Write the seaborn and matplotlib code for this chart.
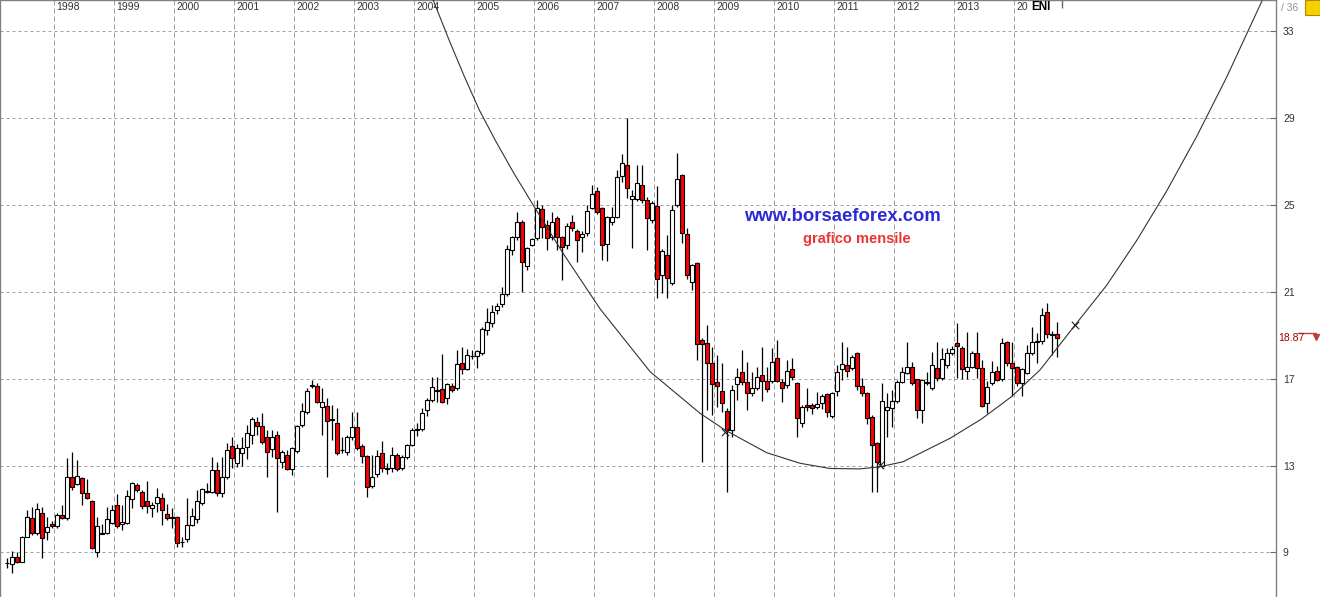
import matplotlib
matplotlib.use("Agg")
import matplotlib.pyplot as plt
from matplotlib.patches import Rectangle
import numpy as np
import pandas as pd
import seaborn as sns

# ENI monthly candles, March 1997 - September 2014
first_month = "1997-03"
opens = [8.53, 8.46, 8.78, 8.55, 9.73, 10.61, 9.88, 10.81, 9.96, 10.30,
         10.21, 10.71, 10.58, 12.46, 12.16, 12.42, 11.73, 11.37, 9.01, 9.90,
         9.88, 10.38, 11.17, 10.33, 10.35, 11.45, 12.10, 11.77, 11.37, 11.04,
         11.27, 11.50, 10.76, 10.62, 10.65, 9.50, 9.61, 10.27, 10.53, 11.30,
         11.80, 11.80, 12.80, 11.73, 12.46, 13.91, 13.11, 13.60, 13.85, 14.41,
         15.03, 14.84, 14.31, 13.75, 14.40, 13.19, 13.51, 12.83, 13.68, 14.86,
         15.46, 16.68, 16.67, 15.72, 15.75, 15.16, 14.95, 13.72, 13.63, 14.31,
         14.80, 13.91, 13.46, 12.06, 12.62, 13.57, 12.90, 12.88, 13.48, 12.88,
         13.38, 13.95, 14.69, 14.67, 15.56, 16.03, 16.48, 16.52, 16.10, 16.69,
         16.56, 17.71, 17.44, 18.07, 18.05, 18.21, 19.25, 19.55, 20.17, 20.43,
         20.91, 22.94, 23.52, 24.23, 22.21, 23.17, 23.50, 24.84, 24.09, 23.55,
         24.39, 23.52, 23.17, 24.23, 23.81, 23.52, 23.70, 24.85, 25.67, 24.85,
         23.20, 24.22, 24.47, 26.35, 26.84, 25.27, 25.30, 25.91, 25.24, 24.32,
         24.96, 21.78, 22.69, 21.40, 24.99, 26.37, 23.66, 21.46, 22.32, 18.77,
         18.67, 17.72, 16.87, 16.44, 15.52, 14.64, 16.75, 17.30, 16.84, 16.33,
         16.56, 17.18, 16.90, 16.90, 17.95, 16.87, 16.72, 17.44, 16.79, 14.95,
         15.79, 15.79, 15.69, 15.87, 16.30, 15.30, 16.46, 17.44, 17.64, 17.48,
         18.18, 16.67, 16.33, 15.26, 14.03, 12.99, 15.57, 15.64, 16.00, 16.87,
         17.29, 17.53, 16.98, 15.56, 16.79, 16.59, 17.48, 17.02, 17.64, 18.21,
         18.64, 18.41, 17.38, 17.56, 18.18, 17.49, 15.87, 16.79, 17.38, 16.98,
         18.68, 17.74, 17.56, 16.82, 17.29, 18.21, 18.70, 18.76, 20.09, 19.04,
         19.05]
highs = [8.73, 9.09, 9.04, 9.75, 10.96, 11.11, 11.30, 11.11, 10.62, 10.43,
         10.80, 11.19, 13.34, 13.65, 13.26, 12.50, 12.37, 11.40, 10.65, 10.30,
         11.11, 11.17, 11.70, 11.19, 11.90, 12.27, 12.19, 11.90, 12.30, 11.33,
         11.96, 11.73, 11.24, 11.04, 10.70, 9.73, 11.50, 11.04, 11.88, 11.96,
         12.18, 13.42, 13.18, 13.42, 14.03, 14.34, 14.00, 14.34, 14.85, 15.23,
         15.26, 15.44, 14.64, 14.64, 14.60, 13.70, 13.72, 13.84, 14.88, 15.87,
         16.57, 16.95, 16.79, 16.57, 16.10, 15.80, 15.64, 14.34, 14.41, 15.49,
         15.49, 14.00, 13.50, 13.49, 13.72, 14.14, 13.11, 13.88, 13.57, 13.49,
         14.00, 14.72, 14.95, 15.64, 16.10, 17.10, 17.07, 18.14, 16.80, 16.80,
         18.33, 18.45, 18.37, 18.33, 18.33, 19.40, 20.25, 20.40, 20.50, 21.25,
         23.17, 23.60, 24.70, 24.32, 23.05, 23.50, 25.24, 25.01, 24.30, 24.70,
         24.50, 23.60, 24.20, 24.55, 23.90, 23.80, 25.01, 25.93, 25.85, 24.90,
         24.50, 24.90, 26.62, 27.36, 29.00, 25.70, 26.85, 26.85, 25.39, 25.20,
         25.88, 23.00, 23.63, 25.01, 27.42, 26.45, 23.93, 22.30, 22.40, 18.90,
         19.48, 18.48, 18.10, 17.75, 15.64, 16.72, 17.48, 18.33, 17.79, 17.30,
         17.56, 18.48, 17.56, 18.41, 18.79, 17.00, 17.87, 17.94, 16.85, 15.79,
         16.60, 15.90, 16.40, 16.30, 16.35, 16.40, 17.64, 18.71, 18.48, 18.10,
         18.25, 17.02, 16.40, 15.35, 14.10, 16.79, 16.33, 16.49, 16.95, 17.56,
         18.71, 17.79, 17.00, 17.00, 17.30, 18.25, 18.71, 18.41, 18.41, 18.50,
         19.56, 18.50, 19.17, 18.30, 19.17, 17.87, 16.90, 17.80, 17.60, 18.87,
         18.75, 18.70, 17.60, 17.50, 18.55, 19.40, 19.10, 20.25, 20.48, 19.20,
         19.60]
lows = [8.27, 8.04, 8.50, 8.55, 9.70, 9.82, 9.80, 8.73, 9.58, 10.15,
        10.15, 10.55, 10.50, 11.90, 12.10, 11.19, 11.45, 9.15, 8.78, 9.85,
        9.85, 10.30, 10.11, 10.04, 10.30, 11.04, 11.80, 11.00, 10.81, 10.65,
        10.88, 10.27, 10.50, 10.12, 9.24, 9.27, 9.50, 10.20, 10.38, 11.20,
        11.75, 11.75, 11.60, 11.55, 12.40, 12.88, 12.95, 12.99, 13.30, 14.00,
        14.40, 14.00, 12.50, 13.40, 10.88, 12.90, 12.80, 12.57, 13.60, 14.80,
        15.40, 16.60, 15.90, 14.41, 12.50, 14.18, 13.50, 13.60, 13.50, 14.20,
        13.70, 13.10, 11.54, 11.95, 12.50, 12.70, 12.60, 12.70, 12.75, 12.80,
        13.30, 13.90, 14.35, 14.60, 15.30, 15.95, 15.95, 15.88, 15.84, 16.40,
        16.50, 17.22, 17.40, 17.90, 17.50, 18.10, 19.00, 19.40, 20.00, 20.30,
        20.80, 22.70, 23.40, 21.02, 22.01, 23.10, 23.40, 23.50, 22.94, 23.40,
        22.94, 21.55, 23.00, 23.80, 22.40, 22.86, 23.60, 24.80, 24.60, 22.47,
        22.45, 24.10, 24.40, 26.08, 25.32, 23.01, 25.20, 25.10, 22.94, 24.20,
        20.71, 20.97, 20.71, 21.30, 24.90, 23.24, 21.60, 21.09, 17.87, 13.19,
        15.57, 15.34, 15.72, 15.49, 11.80, 14.34, 16.03, 16.70, 15.56, 16.20,
        16.50, 16.00, 16.40, 16.80, 16.85, 15.95, 16.60, 16.95, 14.34, 14.80,
        15.50, 15.40, 15.60, 15.60, 15.26, 15.20, 16.20, 16.95, 17.10, 17.40,
        16.50, 16.20, 14.90, 11.80, 11.80, 12.90, 14.34, 14.80, 15.90, 16.80,
        17.20, 16.70, 15.18, 14.95, 16.70, 16.50, 16.90, 16.95, 17.50, 18.10,
        17.02, 16.98, 16.98, 17.50, 17.02, 15.70, 15.44, 16.70, 16.90, 16.90,
        17.60, 16.21, 16.65, 16.21, 17.20, 18.10, 17.75, 18.60, 18.90, 18.10,
        18.02]
closes = [8.53, 8.81, 8.55, 9.70, 10.65, 9.88, 10.99, 9.65, 10.18, 10.21,
          10.71, 10.58, 12.46, 12.00, 12.53, 11.73, 11.50, 9.19, 10.24, 9.86,
          10.53, 10.96, 10.21, 10.40, 11.60, 12.19, 11.88, 11.16, 11.16, 11.17,
          11.54, 10.94, 10.58, 10.60, 9.42, 9.50, 10.27, 10.68, 11.37, 11.91,
          11.82, 12.80, 11.73, 12.46, 13.72, 13.34, 13.80, 13.80, 14.52, 15.14,
          14.84, 14.08, 13.62, 14.31, 13.34, 13.62, 12.83, 13.80, 14.83, 15.52,
          16.46, 16.72, 15.95, 15.95, 15.08, 15.12, 13.57, 13.74, 14.31, 14.80,
          13.80, 13.46, 12.00, 12.50, 13.45, 12.88, 12.86, 13.48, 12.83, 13.38,
          13.95, 14.64, 14.65, 15.44, 16.03, 16.61, 16.44, 15.95, 16.75, 16.49,
          17.67, 17.44, 18.08, 18.03, 18.28, 19.30, 19.60, 20.10, 20.35, 20.91,
          22.97, 23.52, 24.23, 22.37, 23.01, 23.44, 24.88, 23.98, 23.47, 24.21,
          23.52, 23.06, 24.04, 23.93, 23.40, 23.66, 24.73, 25.50, 24.70, 23.17,
          24.44, 24.44, 26.28, 26.93, 25.78, 25.41, 26.01, 25.24, 24.40, 25.08,
          21.58, 22.90, 21.63, 24.78, 26.19, 23.70, 21.78, 22.23, 18.59, 18.59,
          17.72, 16.76, 16.67, 15.87, 14.64, 16.49, 17.07, 16.84, 16.33, 16.56,
          17.07, 16.92, 16.52, 17.79, 16.92, 16.56, 17.38, 17.07, 15.18, 15.69,
          15.69, 15.64, 15.84, 16.21, 15.49, 16.33, 17.33, 17.68, 17.36, 18.02,
          16.67, 16.33, 15.18, 13.97, 13.19, 16.00, 15.69, 16.00, 16.87, 17.33,
          17.56, 16.79, 15.56, 16.95, 16.87, 17.64, 17.02, 17.90, 18.21, 18.36,
          18.51, 17.45, 17.53, 18.18, 17.49, 15.76, 16.61, 17.33, 16.95, 18.64,
          17.71, 17.49, 16.82, 17.45, 18.21, 18.71, 18.72, 19.94, 19.05, 19.06,
          18.87]

years = list(range(1998, 2015))
year_labels = [str(y) for y in years[:-1]] + ["20"]   # "2014" is half hidden by the ticker tag
price_ticks = [9, 13, 17, 21, 25, 29, 33]
last_price = 18.87

# hand drawn arc (month index, price) and its three anchor crosses
curve_x = [85.3, 88.5, 91.5, 94.5, 97.7, 101.5, 105.3, 111.3, 118.7, 128.7, 138.7,
           143.7, 152.0, 158.7, 164.7, 170.7, 174.7, 179.3, 188.7, 195.0, 201.0,
           206.7, 214.0, 220.0, 226.0, 232.0, 238.0, 244.0, 251.1]
curve_y = [34.45, 32.60, 30.95, 29.40, 28.00, 26.45, 25.01, 22.78, 20.22, 17.33, 15.41,
           14.64, 13.60, 13.11, 12.87, 12.85, 12.95, 13.18, 14.26, 15.15, 16.18,
           17.41, 19.56, 21.30, 23.36, 25.64, 28.15, 30.88, 34.41]
anchor_x = [143.7, 174.7, 213.7]
anchor_y = [14.55, 13.03, 19.48]

df = pd.DataFrame({"open": opens, "high": highs, "low": lows, "close": closes})
df["month"] = np.arange(len(df))
df["up"] = df["close"] >= df["open"]

start = pd.Period(first_month, "M")
year_lines = [(pd.Period(f"{y}-01", "M") - start).n - 0.5 for y in years]

sns.set_style("white")
plt.rcParams["font.family"] = ["Liberation Sans", "DejaVu Sans"]

fig = plt.figure(figsize=(13.2, 5.97), dpi=100)
ax = fig.add_axes([0, 0, 1276 / 1320, 1])

# candles
ax.vlines(df["month"], df["low"], df["high"], color="black", lw=0.9, zorder=3)
ax.bar(df["month"], df["close"] - df["open"], bottom=df["open"], width=0.8,
       color=np.where(df["up"], "white", "#ff0000"), edgecolor="black",
       linewidth=0.8, zorder=4)

# arc + anchors
sns.lineplot(x=curve_x, y=curve_y, sort=False, estimator=None, color="#333333",
             lw=0.8, ax=ax, zorder=5)
sns.scatterplot(x=anchor_x, y=anchor_y, marker="x", s=28, color="#222222",
                linewidth=0.8, ax=ax, zorder=6)

ax.set_xlim(-1.34, 253.9)
ax.set_ylim(6.95, 34.45)

ax.set_xticks(year_lines)
ax.set_yticks(price_ticks)
ax.set_yticklabels([str(p) for p in price_ticks])
ax.xaxis.grid(True, color="#a0a0a0", linestyle=(0, (5, 3)), lw=0.72, zorder=0)
ax.yaxis.grid(True, color="#a0a0a0", linestyle=(0, (3, 3)), lw=0.72, zorder=0)
ax.tick_params(axis="x", bottom=False, labelbottom=False)
ax.yaxis.tick_right()
ax.tick_params(axis="y", direction="in", length=4, width=0.8, color="#666666",
               labelsize=7.5, labelcolor="#333333", pad=5)

for side in ["left", "top", "right"]:
    ax.spines[side].set_color("#808080")
    ax.spines[side].set_linewidth(1)
ax.spines["bottom"].set_visible(False)

# year labels along the top
for lab, b in zip(year_labels, year_lines):
    ax.text(b + 0.4, 0.997, lab, transform=ax.get_xaxis_transform(),
            ha="left", va="top", fontsize=7.5, color="#333333")
ax.text(204.9, 0.998, "ENI", transform=ax.get_xaxis_transform(), ha="left", va="top",
        fontsize=8.5, fontweight="bold", color="black", zorder=7)
ax.vlines(len(df), 34.1, 34.45, color="#666666", lw=1)

ax.text(147.5, 24.5, "www.borsaeforex.com", color="#2b2bd6", fontsize=13.3,
        fontweight="bold", ha="left", va="center")
ax.text(159.3, 23.44, "grafico mensile", color="#ee3333", fontsize=10.5,
        fontweight="bold", ha="left", va="center")

# last price marker on the right scale
tr = ax.get_yaxis_transform()
ax.text(1.002, last_price, f"{last_price:.2f}", transform=tr, ha="left", va="center",
        fontsize=7.5, color="#a00000", clip_on=False)
ax.plot([1.017, 1.031], [last_price + 0.25] * 2, transform=tr, color="#c04040",
        lw=1, clip_on=False)
ax.plot([1.031], [last_price + 0.05], transform=tr, marker="v", ms=4,
        color="#c04040", clip_on=False)

fig.text(1281 / 1320, 1 - 8 / 597, "/ 36", ha="left", va="center", fontsize=7.5,
         color="#909090")
fig.patches.append(Rectangle((1305 / 1320, 1 - 15 / 597), 15 / 1320, 15 / 597,
                             transform=fig.transFigure, fc="#f2d200", ec="#c08000",
                             lw=0.8))

fig.savefig("out.png", dpi=100)
